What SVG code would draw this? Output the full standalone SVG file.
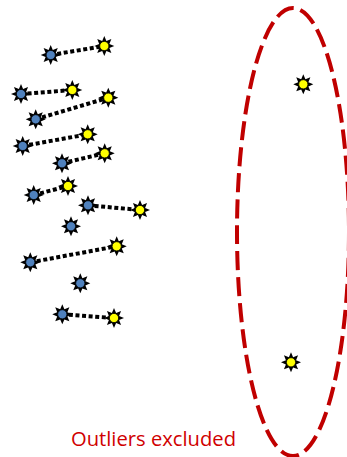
<svg xmlns="http://www.w3.org/2000/svg" xmlns:xlink="http://www.w3.org/1999/xlink" width="347" height="457" viewBox="0 0 347 457">
<style>
.lnk{stroke:#000;stroke-width:4;stroke-dasharray:4 2.6;fill:none}
.b circle{fill:#4F81BD}
.y circle{fill:#FFFF00}
.outl{fill:none;stroke:#C00000;stroke-width:4;stroke-dasharray:19 7}
.lbl{font-family:"Open Sans","Noto Sans","Liberation Sans",sans-serif;font-size:20px;fill:#D00000}
</style>
<defs>
<g id="star">
<polygon points="10,0 5.08,2.1 7.07,7.07 2.1,5.08 0,10 -2.1,5.08 -7.07,7.07 -5.08,2.1 -10,0 -5.08,-2.1 -7.07,-7.07 -2.1,-5.08 0,-10 2.1,-5.08 7.07,-7.07 5.08,-2.1" fill="#000"/>
</g>
</defs>
<ellipse class="outl" cx="293" cy="232" rx="56" ry="224"/>
<g id="connectors">
<line class="lnk" x1="50.7" y1="55" x2="104.3" y2="46"/>
<line class="lnk" x1="21" y1="94" x2="72.3" y2="90"/>
<line class="lnk" x1="35.7" y1="119.3" x2="108.3" y2="97.7"/>
<line class="lnk" x1="22.7" y1="146" x2="87.7" y2="134.3"/>
<line class="lnk" x1="62" y1="163.3" x2="104.7" y2="153.3"/>
<line class="lnk" x1="33.7" y1="195" x2="68" y2="186"/>
<line class="lnk" x1="88" y1="205.3" x2="140" y2="210"/>
<line class="lnk" x1="30.3" y1="262.3" x2="116.7" y2="246.3"/>
<line class="lnk" x1="62.3" y1="314.3" x2="114" y2="318"/>
</g>
<g id="b1" class="b" transform="translate(50.7,55)"><use xlink:href="#star"/><circle r="4.6" stroke="#000" stroke-width="0.8"/></g>
<g id="y1" class="y" transform="translate(104.3,46)"><use xlink:href="#star"/><circle r="4.6" stroke="#000" stroke-width="0.8"/></g>
<g id="b2" class="b" transform="translate(21,94)"><use xlink:href="#star"/><circle r="4.6" stroke="#000" stroke-width="0.8"/></g>
<g id="y2" class="y" transform="translate(72.3,90)"><use xlink:href="#star"/><circle r="4.6" stroke="#000" stroke-width="0.8"/></g>
<g id="b3" class="b" transform="translate(35.7,119.3)"><use xlink:href="#star"/><circle r="4.6" stroke="#000" stroke-width="0.8"/></g>
<g id="y3" class="y" transform="translate(108.3,97.7)"><use xlink:href="#star"/><circle r="4.6" stroke="#000" stroke-width="0.8"/></g>
<g id="b4" class="b" transform="translate(22.7,146)"><use xlink:href="#star"/><circle r="4.6" stroke="#000" stroke-width="0.8"/></g>
<g id="y4" class="y" transform="translate(87.7,134.3)"><use xlink:href="#star"/><circle r="4.6" stroke="#000" stroke-width="0.8"/></g>
<g id="b5" class="b" transform="translate(62,163.3)"><use xlink:href="#star"/><circle r="4.6" stroke="#000" stroke-width="0.8"/></g>
<g id="y5" class="y" transform="translate(104.7,153.3)"><use xlink:href="#star"/><circle r="4.6" stroke="#000" stroke-width="0.8"/></g>
<g id="b6" class="b" transform="translate(33.7,195)"><use xlink:href="#star"/><circle r="4.6" stroke="#000" stroke-width="0.8"/></g>
<g id="y6" class="y" transform="translate(68,186)"><use xlink:href="#star"/><circle r="4.6" stroke="#000" stroke-width="0.8"/></g>
<g id="b7" class="b" transform="translate(88,205.3)"><use xlink:href="#star"/><circle r="4.6" stroke="#000" stroke-width="0.8"/></g>
<g id="y7" class="y" transform="translate(140,210)"><use xlink:href="#star"/><circle r="4.6" stroke="#000" stroke-width="0.8"/></g>
<g id="b8" class="b" transform="translate(71,226.3)"><use xlink:href="#star"/><circle r="4.6" stroke="#000" stroke-width="0.8"/></g>
<g id="b9" class="b" transform="translate(30.3,262.3)"><use xlink:href="#star"/><circle r="4.6" stroke="#000" stroke-width="0.8"/></g>
<g id="y9" class="y" transform="translate(116.7,246.3)"><use xlink:href="#star"/><circle r="4.6" stroke="#000" stroke-width="0.8"/></g>
<g id="b10" class="b" transform="translate(80.3,283.3)"><use xlink:href="#star"/><circle r="4.6" stroke="#000" stroke-width="0.8"/></g>
<g id="b11" class="b" transform="translate(62.3,314.3)"><use xlink:href="#star"/><circle r="4.6" stroke="#000" stroke-width="0.8"/></g>
<g id="y11" class="y" transform="translate(114,318)"><use xlink:href="#star"/><circle r="4.6" stroke="#000" stroke-width="0.8"/></g>
<g id="o1" class="y" transform="translate(303.3,84.3)"><use xlink:href="#star"/><circle r="4.6" stroke="#000" stroke-width="0.8"/></g>
<g id="o2" class="y" transform="translate(291,362.3)"><use xlink:href="#star"/><circle r="4.6" stroke="#000" stroke-width="0.8"/></g>
<g id="label"><text class="lbl" x="71" y="446" textLength="165" lengthAdjust="spacingAndGlyphs">Outliers excluded</text></g>
</svg>
